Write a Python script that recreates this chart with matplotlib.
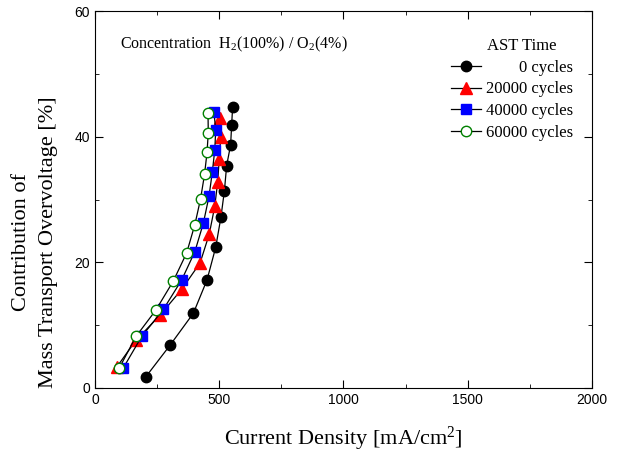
import numpy as np
import matplotlib.pyplot as plt
from matplotlib.ticker import MultipleLocator

# current density [mA/cm2] and contribution [%] for each AST time
x_0 = [205, 302, 396, 451, 486, 507, 521, 530, 546, 550, 554]
y_0 = [1.8, 6.8, 11.9, 17.2, 22.4, 27.2, 31.4, 35.4, 38.7, 41.8, 44.7]
x_20k = [87, 165, 262, 349, 423, 460, 482, 494, 500, 506, 502]
y_20k = [3.3, 7.6, 11.6, 15.7, 19.9, 24.5, 28.9, 32.8, 36.4, 39.9, 43.0]
x_40k = [114, 188, 275, 349, 402, 436, 459, 472, 482, 486, 479]
y_40k = [3.2, 8.2, 12.5, 17.2, 21.7, 26.2, 30.5, 34.3, 37.8, 41.0, 43.9]
x_60k = [98, 165, 245, 315, 369, 402, 425, 441, 451, 456, 455]
y_60k = [3.2, 8.2, 12.4, 17.0, 21.5, 26.0, 30.1, 34.0, 37.5, 40.6, 43.7]
labels = ["0 cycles", "20000 cycles", "40000 cycles", "60000 cycles"]

serif = "Liberation Serif"
sans = "Liberation Sans"
plt.rcParams["mathtext.fontset"] = "custom"
plt.rcParams["mathtext.rm"] = serif
plt.rcParams["mathtext.it"] = serif + ":italic"
plt.rcParams["mathtext.bf"] = serif + ":bold"

fig = plt.figure(figsize=(6.44, 4.53), dpi=100)
ax = fig.add_axes([0.1475, 0.1435, 0.7715, 0.8322])

ax.plot(x_0, y_0, "-o", color="black", lw=0.9, ms=7.5, mfc="black", mec="black", label=labels[0])
ax.plot(x_20k, y_20k, "-^", color="black", lw=0.9, ms=8.5, mfc="red", mec="red", label=labels[1])
ax.plot(x_40k, y_40k, "-s", color="black", lw=0.9, ms=6.5, mfc="blue", mec="blue", label=labels[2])
ax.plot(x_60k, y_60k, "-o", color="black", lw=0.9, ms=7.5, mfc="white", mec="green", label=labels[3])

ax.set_xlim(0, 2000)
ax.set_ylim(0, 60)
ax.xaxis.set_major_locator(MultipleLocator(500))
ax.xaxis.set_minor_locator(MultipleLocator(250))
ax.yaxis.set_major_locator(MultipleLocator(20))
ax.yaxis.set_minor_locator(MultipleLocator(10))
ax.tick_params(which="both", direction="in", top=True, right=True, labelsize=10)
ax.tick_params(which="major", length=6)
ax.tick_params(which="minor", length=3)
for lab in ax.get_xticklabels() + ax.get_yticklabels():
    lab.set_fontfamily(sans)

ax.set_xlabel(r"Current Density [mA/cm$^{\mathrm{2}}$]", fontfamily=serif, fontsize=16, labelpad=13)
fig.text(35 / 644, 1 - 242 / 453, "Contribution of\nMass Transport Overvoltage [%]",
         fontfamily=serif, fontsize=16, rotation=90, ha="center", va="center",
         multialignment="center", linespacing=1.55)

ax.text(0.05, 0.912, r"Concentration  H$_{\mathrm{2}}$(100%) / O$_{\mathrm{2}}$(4%)",
        transform=ax.transAxes, fontfamily=serif, fontsize=11.5, va="center")

leg = ax.legend(loc="upper right", bbox_to_anchor=(0.985, 0.96), frameon=False,
                title="AST Time", prop={"family": serif, "size": 12},
                handlelength=1.75, handletextpad=0.3, labelspacing=0.35, borderpad=0.2)
leg.get_title().set_fontfamily(serif)
leg.get_title().set_fontsize(12)

# right-align the legend labels, nudge the title right
fig.canvas.draw()
renderer = fig.canvas.get_renderer()
widths = [t.get_window_extent(renderer).width for t in leg.get_texts()]
shift = max(widths)
for t, w in zip(leg.get_texts(), widths):
    t.set_position((shift - w, 0))
leg.get_title().set_position((10, 0))

fig.savefig("out.png", dpi=100)
